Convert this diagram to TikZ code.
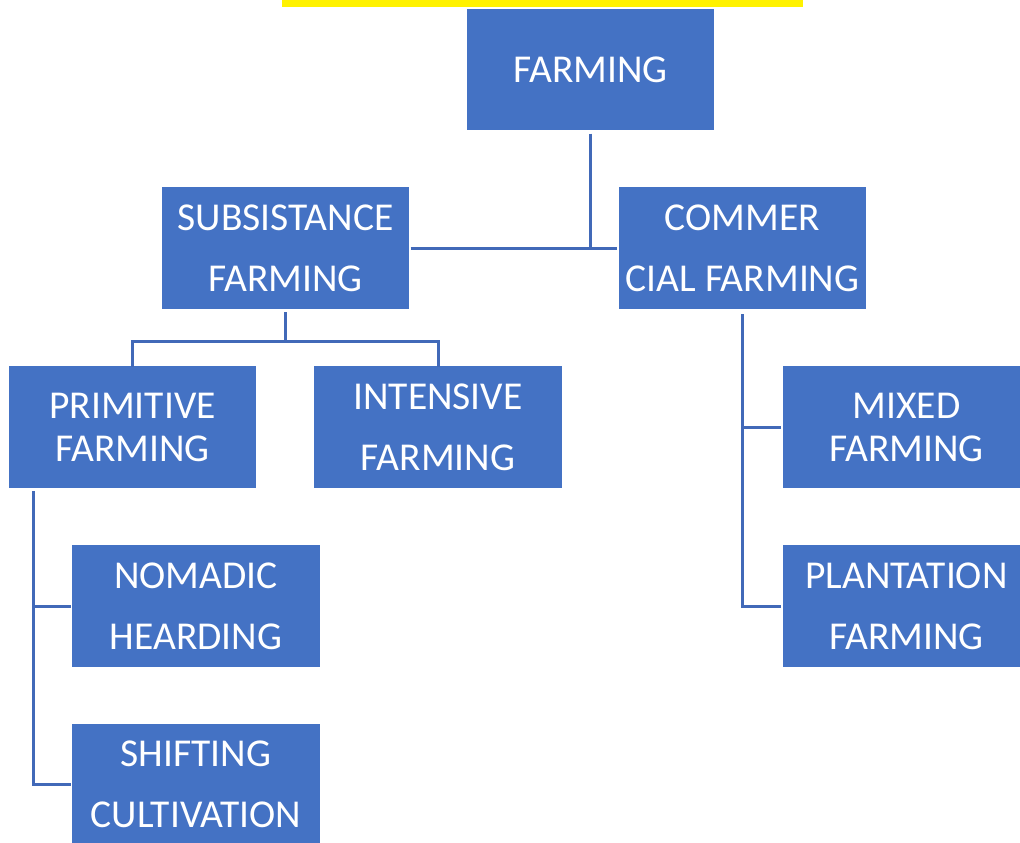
\documentclass[tikz,border=0pt]{standalone}
\usepackage{fontspec}
\setmainfont{Carlito}
\usepackage{tikz}
\usetikzlibrary{calc}
\definecolor{boxblue}{HTML}{4472C4}
\definecolor{lineblue}{HTML}{4169B8}
\tikzset{
  box/.style={fill=boxblue, draw=white, line width=1.2pt, text=white,
    minimum width=249pt, minimum height=123pt, inner sep=0pt, align=center,
    font=\fontsize{39.5}{43}\selectfont},
  link/.style={draw=lineblue, line width=3pt}
}

\begin{document}
\begin{tikzpicture}[x=1pt, y=-1pt]
  \clip (0,0) rectangle (1020,843);
  \fill[white] (0,0) rectangle (1020,843);
  \fill[yellow] (282,0) rectangle (803,7);

  \node[box] (farming)    at (590.5,69.5)  {FARMING};
  \node[box] (subsist)    at (285.5,248)   {SUBSISTANCE\\[18pt]FARMING};
  \node[box] (commerce)   at (742.5,248)   {COMMER\\[18pt]CIAL FARMING};
  \node[box] (primitive)  at (132.5,427)   {PRIMITIVE\\FARMING};
  \node[box] (intensive)  at (438,427)     {INTENSIVE\\[18pt]FARMING};
  \node[box] (mixed)      at (906.5,427)   {MIXED\\FARMING};
  \node[box] (nomadic)    at (196,606)     {NOMADIC\\[18pt]HEARDING};
  \node[box] (plantation) at (906.5,606)   {PLANTATION\\[18pt]FARMING};
  \node[box] (shifting)   at (196,784.5)   {SHIFTING\\[18pt]CULTIVATION};

  \draw[link] (subsist.east) -- (commerce.west);
  \draw[link] ([yshift=-2pt]farming.south) -- (farming.south |- subsist.east);

  \draw[link] ([yshift=-2pt]subsist.south) -- ++(0,29) coordinate (split);
  \draw[link] ([yshift=-2pt]primitive.north) |- (split) -| ([yshift=-2pt]intensive.north);

  \draw[link] ([xshift=-99.5pt, yshift=-2pt]primitive.south) |- (nomadic.west);
  \draw[link] ([xshift=-99.5pt, yshift=-2pt]primitive.south) |- (shifting.west);

  \draw[link] ([yshift=-4pt]commerce.south) |- (mixed.west);
  \draw[link] ([yshift=-4pt]commerce.south) |- (plantation.west);
\end{tikzpicture}
\end{document}
